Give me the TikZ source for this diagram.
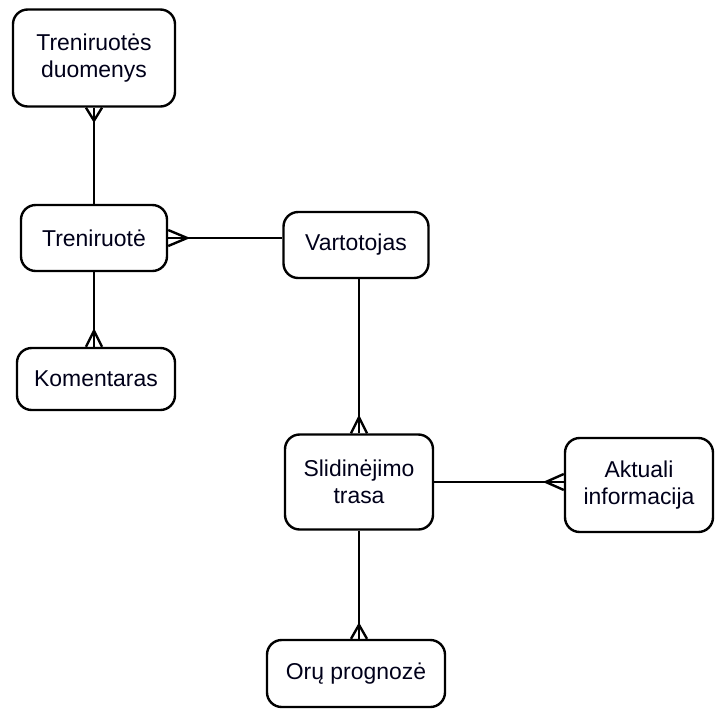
\documentclass[tikz,border=0pt]{standalone}
\usepackage{fontspec}
\setmainfont{Liberation Sans}
\usetikzlibrary{calc}
% crow's foot: #1 edge point, #2 offset of the apex, #3 half spread of the prongs
\newcommand\crowfoot[3]{%
  \draw[link] ($(#1)+(#3)$) -- ($(#1)+(#2)$) -- ($(#1)-(#3)$);}
\begin{document}
\begin{tikzpicture}[x=0.75pt,y=-0.75pt,
  entity/.style={draw, line width=1.8pt, rounded corners=11pt, align=center,
    inner sep=0pt, text=black!90!blue,
    font=\fontsize{17.2}{20.5}\selectfont},
  link/.style={line width=1.8pt}]
\useasboundingbox (0,0) rectangle (715,708);

% entities
\node[entity, minimum width=121.5pt, minimum height=72.75pt] (duom) at (94,58) {Treniruotės\\duomenys};
\node[entity, minimum width=109.5pt, minimum height=49.5pt] (tren) at (94,238) {Treniruotė};
\node[entity, minimum width=118.5pt, minimum height=46.5pt] (kom) at (96,379) {Komentaras};
\node[entity, minimum width=108.75pt, minimum height=49.5pt] (vart) at (356,245) {Vartotojas};
\node[entity, minimum width=111pt, minimum height=71.25pt] (slid) at (359,482) {Slidinėjimo\\trasa};
\node[entity, minimum width=111pt, minimum height=70.5pt] (akt) at (639,485) {Aktuali\\informacija};
\node[entity, minimum width=133.5pt, minimum height=50.25pt] (oru) at (356,673.5) {Orų prognozė};

% connector end points
\coordinate (cDuom) at (duom.south);
\coordinate (cKom) at (kom.north -| tren.south);
\coordinate (cTren) at (tren.east);
\coordinate (cVart) at (vart.west |- tren.east);
\coordinate (cSlidTop) at (slid.north);
\coordinate (cVartBot) at (vart.south -| slid.north);
\coordinate (cAkt) at (akt.west |- slid.east);
\coordinate (cOru) at (oru.north -| slid.south);

% relationships
\draw[link] (cDuom) -- (tren.north);
\draw[link] (tren.south) -- (cKom);
\draw[link] (cTren) -- (cVart);
\draw[link] (cVartBot) -- (cSlidTop);
\draw[link] (slid.east) -- (cAkt);
\draw[link] (slid.south) -- (cOru);

% many-sides
\crowfoot{cDuom}{0,13}{8,0}
\crowfoot{cKom}{0,-16}{8,0}
\crowfoot{cTren}{19,0}{0,8}
\crowfoot{cSlidTop}{0,-16}{8,0}
\crowfoot{cAkt}{-18,0}{0,8}
\crowfoot{cOru}{0,-14}{8,0}
\end{tikzpicture}
\end{document}
